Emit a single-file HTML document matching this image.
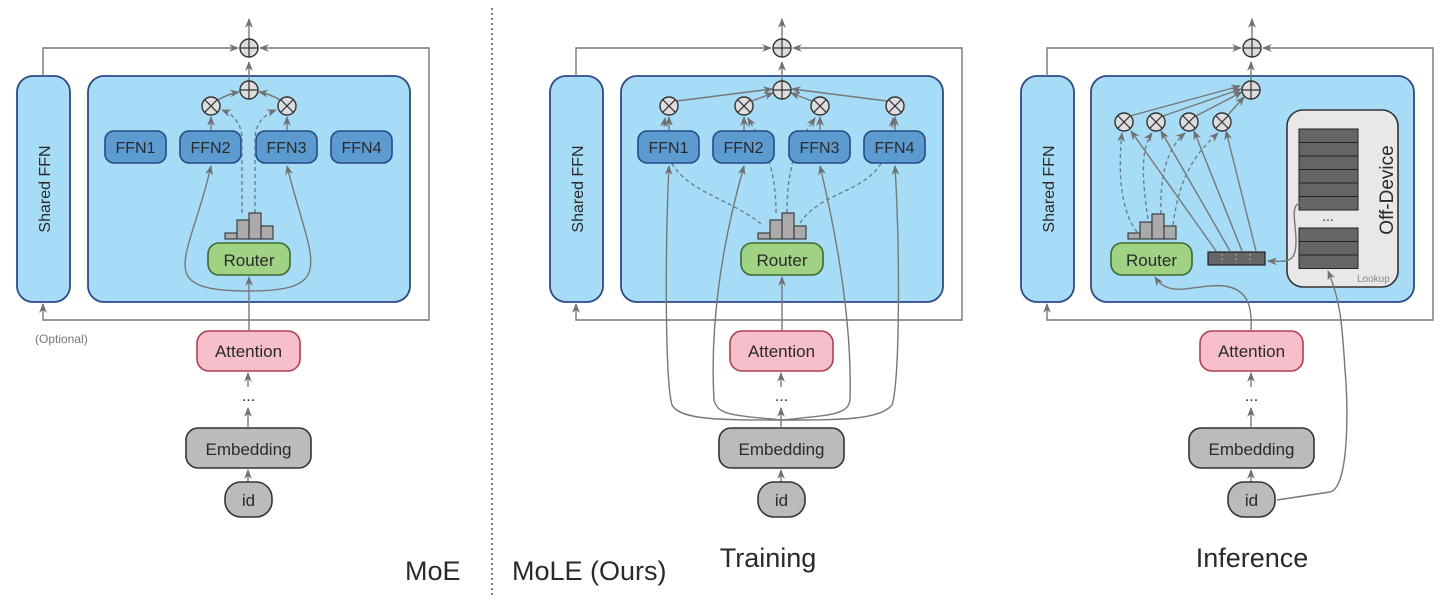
<!DOCTYPE html>
<html><head><meta charset="utf-8"><style>
html,body{margin:0;padding:0;background:#fff;}
svg{display:block;}
text{font-family:"Liberation Sans",sans-serif;fill:#2a2a2a;}
</style></head><body>
<svg width="1444" height="604" viewBox="0 0 1444 604" xmlns="http://www.w3.org/2000/svg">
<defs>
<marker id="a" viewBox="0 0 10 10" refX="9" refY="5" markerWidth="7" markerHeight="7" orient="auto-start-reverse"><path d="M0,1 L10,5 L0,9 L3,5z" fill="#707070"/></marker>
</defs>
<style>
.ln{stroke:#777;stroke-width:1.4;fill:none;}
.ds{stroke:#6a8090;stroke-width:1.4;fill:none;stroke-dasharray:4,3;}
.sh{fill:#a6dcf6;stroke:#2e4a8a;stroke-width:1.8;}
.ffn{fill:#5b9bd0;stroke:#264a85;stroke-width:1.6;}
.rt{fill:#9fd283;stroke:#3d6a2e;stroke-width:1.6;}
.at{fill:#f6bfcb;stroke:#b04050;stroke-width:1.6;}
.gy{fill:#bbb;stroke:#333;stroke-width:1.6;}
.ci{fill:#ddd;stroke:#333;stroke-width:1.4;}
.hb{fill:#aaa;stroke:#333;stroke-width:1.1;}
</style>

<!-- ========== common per panel ========== -->
<g id="p1">
<rect class="sh" x="17" y="76" width="53" height="226" rx="16"/>
<text transform="translate(50,189) rotate(-90)" font-size="16" text-anchor="middle">Shared FFN</text>
<rect class="sh" x="88" y="76" width="322" height="226" rx="16"/>
<path class="ln" d="M43,76 V48 H238" marker-end="url(#a)"/>
<path class="ln" d="M429,302 V48 H260" marker-end="url(#a)"/>
<path class="ln" d="M429,302 V320 H43 V304" marker-end="url(#a)"/>
<path class="ln" d="M249,39 V19" marker-end="url(#a)"/>
<circle class="ci" cx="249" cy="48" r="9"/><path d="M240,48h18M249,39v18" stroke="#333" stroke-width="1.2"/>
<rect class="at" x="197" y="331" width="103" height="40" rx="12"/>
<text x="248.5" y="357" font-size="17" text-anchor="middle">Attention</text>
<path class="ln" d="M248,387 V373" marker-end="url(#a)"/>
<text x="248.5" y="401" font-size="16" text-anchor="middle">...</text>
<path class="ln" d="M248,427 V408" marker-end="url(#a)"/>
<rect class="gy" x="186" y="428" width="125" height="40" rx="12"/>
<text x="248.5" y="455" font-size="17" text-anchor="middle">Embedding</text>
<path class="ln" d="M248,482 V470" marker-end="url(#a)"/>
<rect class="gy" x="225" y="482" width="47" height="35" rx="16"/>
<text x="248.5" y="506" font-size="17" text-anchor="middle">id</text>
</g>
<g transform="translate(533,0)">
<rect class="sh" x="17" y="76" width="53" height="226" rx="16"/>
<text transform="translate(50,189) rotate(-90)" font-size="16" text-anchor="middle">Shared FFN</text>
<rect class="sh" x="88" y="76" width="322" height="226" rx="16"/>
<path class="ln" d="M43,76 V48 H238" marker-end="url(#a)"/>
<path class="ln" d="M409,48 H260" marker-end="url(#a)"/>
<path class="ln" d="M429,302 V48 H409"/>
<path class="ln" d="M429,302 V320 H43 V304" marker-end="url(#a)"/>
<path class="ln" d="M249,39 V19" marker-end="url(#a)"/>
<circle class="ci" cx="249" cy="48" r="9"/><path d="M240,48h18M249,39v18" stroke="#333" stroke-width="1.2"/>
<rect class="at" x="197" y="331" width="103" height="40" rx="12"/>
<text x="248.5" y="357" font-size="17" text-anchor="middle">Attention</text>
<path class="ln" d="M248,387 V373" marker-end="url(#a)"/>
<text x="248.5" y="401" font-size="16" text-anchor="middle">...</text>
<path class="ln" d="M248,427 V408" marker-end="url(#a)"/>
<rect class="gy" x="186" y="428" width="125" height="40" rx="12"/>
<text x="248.5" y="455" font-size="17" text-anchor="middle">Embedding</text>
<path class="ln" d="M248,482 V470" marker-end="url(#a)"/>
<rect class="gy" x="225" y="482" width="47" height="35" rx="16"/>
<text x="248.5" y="506" font-size="17" text-anchor="middle">id</text>
</g>
<g transform="translate(1003,0)">
<rect class="sh" x="18" y="76" width="53" height="226" rx="16"/>
<text transform="translate(51,189) rotate(-90)" font-size="16" text-anchor="middle">Shared FFN</text>
<rect class="sh" x="88" y="76" width="323" height="226" rx="16"/>
<path class="ln" d="M44,76 V48 H238" marker-end="url(#a)"/>
<path class="ln" d="M430,302 V48 H260" marker-end="url(#a)"/>
<path class="ln" d="M430,302 V320 H44 V304" marker-end="url(#a)"/>
<path class="ln" d="M249,39 V19" marker-end="url(#a)"/>
<circle class="ci" cx="249" cy="48" r="9"/><path d="M240,48h18M249,39v18" stroke="#333" stroke-width="1.2"/>
<rect class="at" x="197" y="331" width="103" height="40" rx="12"/>
<text x="248.5" y="357" font-size="17" text-anchor="middle">Attention</text>
<path class="ln" d="M248,387 V373" marker-end="url(#a)"/>
<text x="248.5" y="401" font-size="16" text-anchor="middle">...</text>
<path class="ln" d="M248,427 V408" marker-end="url(#a)"/>
<rect class="gy" x="186" y="428" width="125" height="40" rx="12"/>
<text x="248.5" y="455" font-size="17" text-anchor="middle">Embedding</text>
<path class="ln" d="M248,482 V470" marker-end="url(#a)"/>
<rect class="gy" x="225" y="482" width="47" height="35" rx="16"/>
<text x="248.5" y="506" font-size="17" text-anchor="middle">id</text>
</g>

<!-- ========== Panel 1 specifics ========== -->
<text x="35" y="343" font-size="12" fill="#777" style="fill:#777">(Optional)</text>
<path class="ln" d="M249,330 V277" marker-end="url(#a)"/>
<rect class="ffn" x="105" y="131" width="61" height="32" rx="9"/><text x="135.5" y="153" font-size="16" text-anchor="middle">FFN1</text>
<rect class="ffn" x="180" y="131" width="61" height="32" rx="9"/><text x="210.5" y="153" font-size="16" text-anchor="middle">FFN2</text>
<rect class="ffn" x="256" y="131" width="61" height="32" rx="9"/><text x="286.5" y="153" font-size="16" text-anchor="middle">FFN3</text>
<rect class="ffn" x="331" y="131" width="61" height="32" rx="9"/><text x="361.5" y="153" font-size="16" text-anchor="middle">FFN4</text>
<path class="ln" d="M249,81 V62" marker-end="url(#a)"/>
<path class="ln" d="M218,100 Q228,94 239,92" marker-end="url(#a)"/>
<path class="ln" d="M280,100 Q270,94 259,92" marker-end="url(#a)"/>
<path class="ln" d="M211,130 V117" marker-end="url(#a)"/>
<path class="ln" d="M287,130 V117" marker-end="url(#a)"/>
<path class="ds" d="M242,213 V140 Q242,118 222,110" marker-end="url(#a)"/>
<path class="ds" d="M255,213 V140 Q255,118 276,110" marker-end="url(#a)"/>
<path class="ln" d="M249,291 C150,291 190,260 211,166" marker-end="url(#a)"/>
<path class="ln" d="M249,291 C340,291 310,260 287,166" marker-end="url(#a)"/>
<rect class="hb" x="225" y="233" width="12" height="6"/><rect class="hb" x="237" y="220" width="12" height="19"/><rect class="hb" x="249" y="213" width="12" height="26"/><rect class="hb" x="261" y="226" width="12" height="13"/>
<rect class="rt" x="208" y="243" width="82" height="32" rx="11"/><text x="249" y="266" font-size="17" text-anchor="middle">Router</text>
<circle class="ci" cx="211" cy="106" r="9"/><path d="M204.6,99.6l12.8,12.8M217.4,99.6l-12.8,12.8" stroke="#333" stroke-width="1.2"/>
<circle class="ci" cx="287" cy="106" r="9"/><path d="M280.6,99.6l12.8,12.8M293.4,99.6l-12.8,12.8" stroke="#333" stroke-width="1.2"/>
<circle class="ci" cx="249" cy="90" r="9"/><path d="M240,90h18M249,81v18" stroke="#333" stroke-width="1.2"/>

<!-- divider -->
<path d="M492,8 V596" stroke="#444" stroke-width="1.4" stroke-dasharray="2,3"/>
<text x="405" y="580" font-size="27">MoE</text>
<text x="512" y="580" font-size="27">MoLE (Ours)</text>
<text x="768" y="567" font-size="27" text-anchor="middle">Training</text>
<text x="1252" y="567" font-size="27" text-anchor="middle">Inference</text>

<!-- ========== Panel 2 specifics ========== -->
<path class="ln" d="M782,330 V277" marker-end="url(#a)"/>
<path class="ln" d="M782,81 V62" marker-end="url(#a)"/>
<path class="ln" d="M677,101 L772,89" marker-end="url(#a)"/>
<path class="ln" d="M752,101 L773,93" marker-end="url(#a)"/>
<path class="ln" d="M812,101 L791,93" marker-end="url(#a)"/>
<path class="ln" d="M887,101 L792,89" marker-end="url(#a)"/>
<path class="ln" d="M669,130 V117" marker-end="url(#a)"/>
<path class="ln" d="M744,130 V117" marker-end="url(#a)"/>
<path class="ln" d="M820,130 V117" marker-end="url(#a)"/>
<path class="ln" d="M895,130 V117" marker-end="url(#a)"/>
<path class="ds" d="M761,224 C720,190 655,190 665,118" marker-end="url(#a)"/>
<path class="ds" d="M776,213 C776,160 760,140 748,118" marker-end="url(#a)"/>
<path class="ds" d="M787,213 C787,160 800,140 815,118" marker-end="url(#a)"/>
<path class="ds" d="M800,223 C830,180 890,200 893,118" marker-end="url(#a)"/>
<path class="ln" d="M782,420 C720,420 680,420 672,405 C665,380 665,250 669,166" marker-end="url(#a)"/>
<path class="ln" d="M782,420 C730,415 718,415 714,400 C710,330 720,250 744,166" marker-end="url(#a)"/>
<path class="ln" d="M782,420 C830,415 848,415 850,400 C852,330 840,250 820,166" marker-end="url(#a)"/>
<path class="ln" d="M782,420 C840,420 880,420 892,405 C900,380 900,250 895,166" marker-end="url(#a)"/>
<rect class="hb" x="758" y="233" width="12" height="6"/><rect class="hb" x="770" y="220" width="12" height="19"/><rect class="hb" x="782" y="213" width="12" height="26"/><rect class="hb" x="794" y="226" width="12" height="13"/>
<rect class="rt" x="741" y="243" width="82" height="32" rx="11"/><text x="782" y="266" font-size="17" text-anchor="middle">Router</text>
<rect class="ffn" x="638" y="131" width="61" height="32" rx="9"/><text x="668.5" y="153" font-size="16" text-anchor="middle">FFN1</text>
<rect class="ffn" x="713" y="131" width="61" height="32" rx="9"/><text x="743.5" y="153" font-size="16" text-anchor="middle">FFN2</text>
<rect class="ffn" x="789" y="131" width="61" height="32" rx="9"/><text x="819.5" y="153" font-size="16" text-anchor="middle">FFN3</text>
<rect class="ffn" x="864" y="131" width="61" height="32" rx="9"/><text x="894.5" y="153" font-size="16" text-anchor="middle">FFN4</text>
<g id="ox">
<circle class="ci" cx="669" cy="106" r="9"/><path d="M662.6,99.6l12.8,12.8M675.4,99.6l-12.8,12.8" stroke="#333" stroke-width="1.2"/>
<circle class="ci" cx="744" cy="106" r="9"/><path d="M737.6,99.6l12.8,12.8M750.4,99.6l-12.8,12.8" stroke="#333" stroke-width="1.2"/>
<circle class="ci" cx="820" cy="106" r="9"/><path d="M813.6,99.6l12.8,12.8M826.4,99.6l-12.8,12.8" stroke="#333" stroke-width="1.2"/>
<circle class="ci" cx="895" cy="106" r="9"/><path d="M888.6,99.6l12.8,12.8M901.4,99.6l-12.8,12.8" stroke="#333" stroke-width="1.2"/>
</g>
<circle class="ci" cx="782" cy="90" r="9"/><path d="M773,90h18M782,81v18" stroke="#333" stroke-width="1.2"/>

<!-- ========== Panel 3 specifics ========== -->
<path class="ln" d="M1251,81 V62" marker-end="url(#a)"/>
<path class="ln" d="M1130,116 L1240,86" marker-end="url(#a)"/>
<path class="ln" d="M1163,116 L1241,89" marker-end="url(#a)"/>
<path class="ln" d="M1196,116 L1242,92" marker-end="url(#a)"/>
<path class="ln" d="M1228,115 L1244,97" marker-end="url(#a)"/>
<rect x="1287" y="110" width="111" height="177" rx="16" fill="#e8e8e8" stroke="#333" stroke-width="1.6"/>
<text transform="translate(1393,190) rotate(-90)" font-size="19" text-anchor="middle">Off-Device</text>
<text x="1357" y="282" font-size="10" fill="#888" style="fill:#888">Lookup</text>
<g fill="#666" stroke="#222" stroke-width="1">
<rect x="1299" y="129" width="59" height="13.5"/><rect x="1299" y="142.5" width="59" height="13.5"/><rect x="1299" y="156" width="59" height="13.5"/><rect x="1299" y="169.5" width="59" height="13.5"/><rect x="1299" y="183" width="59" height="13.5"/><rect x="1299" y="196.5" width="59" height="13.5"/>
<rect x="1299" y="228" width="59" height="13.5"/><rect x="1299" y="241.5" width="59" height="13.5"/><rect x="1299" y="255" width="59" height="13.5"/>
</g>
<text x="1328" y="221" font-size="14" text-anchor="middle">...</text>
<path class="ln" d="M1300,203 C1290,205 1296,225 1296,240 C1296,262 1290,262 1268,261" marker-end="url(#a)"/>
<rect x="1208" y="252" width="57" height="13" fill="#666" stroke="#222" stroke-width="1.2"/>
<path d="M1222,254v9M1236,254v9M1250,254v9" stroke="#aaa" stroke-width="1" stroke-dasharray="2,2"/>
<path class="ln" d="M1216,251 L1131,131" marker-end="url(#a)"/>
<path class="ln" d="M1230,251 L1161,131" marker-end="url(#a)"/>
<path class="ln" d="M1242,251 L1194,131" marker-end="url(#a)"/>
<path class="ln" d="M1256,251 L1226,131" marker-end="url(#a)"/>
<path class="ds" d="M1137,232 C1120,210 1118,170 1122,133" marker-end="url(#a)"/>
<path class="ds" d="M1149,226 C1142,180 1140,150 1152,133" marker-end="url(#a)"/>
<path class="ds" d="M1161,214 C1160,180 1165,150 1185,133" marker-end="url(#a)"/>
<path class="ds" d="M1173,225 C1180,170 1200,150 1218,133" marker-end="url(#a)"/>
<rect class="hb" x="1128" y="233" width="12" height="6"/><rect class="hb" x="1140" y="222" width="12" height="17"/><rect class="hb" x="1152" y="214" width="12" height="25"/><rect class="hb" x="1164" y="226" width="12" height="13"/>
<rect class="rt" x="1111" y="243" width="81" height="32" rx="11"/><text x="1151.5" y="266" font-size="17" text-anchor="middle">Router</text>
<path class="ln" d="M1251,330 C1252,310 1250,290 1225,286 C1195,283 1170,300 1155,277" marker-end="url(#a)"/>
<path class="ln" d="M1277,500 L1330,492 C1350,488 1348,400 1345,370 C1342,320 1340,300 1328,271" marker-end="url(#a)"/>
<circle class="ci" cx="1124" cy="122" r="9"/><path d="M1117.6,115.6l12.8,12.8M1130.4,115.6l-12.8,12.8" stroke="#333" stroke-width="1.2"/>
<circle class="ci" cx="1156" cy="122" r="9"/><path d="M1149.6,115.6l12.8,12.8M1162.4,115.6l-12.8,12.8" stroke="#333" stroke-width="1.2"/>
<circle class="ci" cx="1189" cy="122" r="9"/><path d="M1182.6,115.6l12.8,12.8M1195.4,115.6l-12.8,12.8" stroke="#333" stroke-width="1.2"/>
<circle class="ci" cx="1222" cy="122" r="9"/><path d="M1215.6,115.6l12.8,12.8M1228.4,115.6l-12.8,12.8" stroke="#333" stroke-width="1.2"/>
<circle class="ci" cx="1251" cy="90" r="9"/><path d="M1242,90h18M1251,81v18" stroke="#333" stroke-width="1.2"/>
</svg>
</body></html>
